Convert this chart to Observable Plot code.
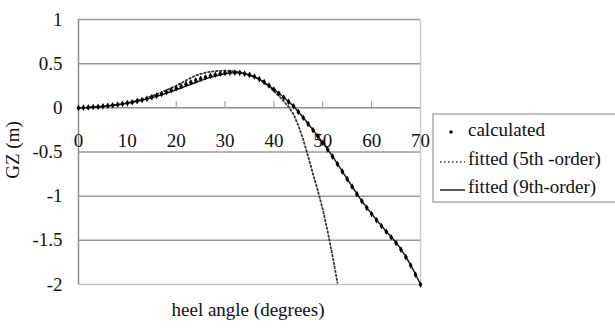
<!DOCTYPE html>
<html>
<head>
<meta charset="utf-8">
<script src="https://cdn.jsdelivr.net/npm/d3@7"></script>
<script src="https://cdn.jsdelivr.net/npm/@observablehq/plot@0.6"></script>
<style>
  html, body { margin: 0; padding: 0; background: #fff; }
  #chart { position: relative; width: 615px; height: 331px; }
</style>
</head>
<body>
<div id="chart"></div>
<script>
// heel angle (degrees) for the calculated points
const calcAngle = [0,1,2,3,4,5,6,7,8,9,10,11,12,13,14,15,16,17,18,19,20,21,22,23,24,25,26,27,28,29,30,31,32,33,34,35,36,37,38,39,40,41,42,43,44,45,46,47,48,49,50,51,52,53,54,55,56,57,58,59,60,61,62,63,64,65,66,67,68,69,70];
// calculated GZ (m)
const calcGZ = [0,0.002,0.005,0.009,0.013,0.018,0.024,0.030,0.037,0.045,0.054,0.064,0.076,0.089,0.104,0.120,0.138,0.157,0.178,0.200,0.222,0.245,0.268,0.290,0.311,0.330,0.347,0.362,0.375,0.386,0.394,0.399,0.400,0.396,0.387,0.373,0.354,0.327,0.292,0.252,0.208,0.163,0.118,0.068,0.018,-0.047,-0.112,-0.182,-0.252,-0.322,-0.397,-0.472,-0.552,-0.637,-0.722,-0.807,-0.892,-0.977,-1.057,-1.132,-1.202,-1.272,-1.337,-1.402,-1.465,-1.530,-1.605,-1.690,-1.785,-1.890,-2.000];

// fitted (9th-order)
const fit9Angle = [0,2,4,6,8,10,12,14,16,18,20,22,24,25,26,27,28,29,30,31,32,33,34,35,36,37,38,39,40,41,42,43,44,45,46,47,48,49,50,51,52,53,54,55,56,57,58,59,60,61,62,63,64,65,66,67,68,69,70];
const fit9GZ = [0,0.004,0.012,0.022,0.035,0.052,0.073,0.099,0.130,0.165,0.205,0.245,0.287,0.308,0.327,0.344,0.360,0.374,0.386,0.395,0.399,0.397,0.388,0.373,0.352,0.325,0.290,0.250,0.210,0.165,0.120,0.070,0.020,-0.045,-0.110,-0.180,-0.250,-0.320,-0.395,-0.470,-0.550,-0.635,-0.720,-0.805,-0.890,-0.975,-1.055,-1.130,-1.200,-1.270,-1.335,-1.400,-1.460,-1.525,-1.600,-1.685,-1.780,-1.885,-2.000];

// fitted (5th-order)
const fit5Angle = [0,1,2,3,4,5,6,7,8,9,10,11,12,13,14,15,16,17,18,19,20,21,22,23,24,25,26,27,28,29,30,31,32,33,34,35,36,37,38,39,40,41,42,43,44,45,46,47,48,49,50,51,52,53];
const fit5GZ = [0,0.001,0.003,0.006,0.010,0.015,0.021,0.028,0.036,0.045,0.056,0.068,0.082,0.097,0.114,0.133,0.154,0.176,0.200,0.225,0.250,0.280,0.310,0.340,0.365,0.385,0.398,0.408,0.415,0.419,0.420,0.418,0.412,0.402,0.388,0.370,0.350,0.320,0.285,0.240,0.190,0.135,0.075,0.010,-0.070,-0.200,-0.360,-0.550,-0.750,-0.940,-1.150,-1.400,-1.680,-1.980];

const xTicks = [0,10,20,30,40,50,60,70];
const yTicks = [1,0.5,0,-0.5,-1,-1.5,-2];
const gridY = [1,0.5,-0.5,-1,-1.5];

const legendLabels = ["calculated", "fitted (5th -order)", "fitted (9th-order)"];

const calc = calcAngle.map((a, i) => ({a, gz: calcGZ[i]}));
const fit9 = fit9Angle.map((a, i) => ({a, gz: fit9GZ[i]}));
const fit5 = fit5Angle.map((a, i) => ({a, gz: fit5GZ[i]}));

const FONT = "Liberation Serif, Times New Roman, serif";

const plot = Plot.plot({
  width: 615,
  height: 331,
  marginLeft: 78,
  marginRight: 195,
  marginTop: 19,
  marginBottom: 47,
  style: {fontFamily: FONT, fontSize: "19px", background: "#fff", color: "#111"},
  x: {domain: [0, 70], axis: null},
  y: {domain: [-2, 1], ticks: yTicks, tickSize: 0, tickPadding: 16, tickFormat: d => String(d), label: null},
  marks: [
    Plot.ruleY(gridY, {y: d => d, stroke: "#9a9a9a", strokeWidth: 1.5}),
    Plot.ruleY([-2], {y: d => d, stroke: "#c4c4c4", strokeWidth: 1.5}),
    Plot.ruleX([70], {x: d => d, stroke: "#cccccc", strokeWidth: 1.5}),
    Plot.ruleX([0], {x: d => d, stroke: "#8f8f8f", strokeWidth: 1.5}),
    Plot.ruleY([0], {y: d => d, stroke: "#8f8f8f", strokeWidth: 1.5}),
    Plot.ruleX(xTicks.slice(1, -1), {x: d => d, y1: 0, y2: 0.07, stroke: "#8f8f8f", strokeWidth: 1}),
    Plot.text(xTicks, {x: d => d, y: 0, text: d => String(d), dy: 33, fill: "#111"}),
    Plot.line(fit5, {x: "a", y: "gz", stroke: "#333", strokeWidth: 1.8, strokeDasharray: "1.5,2.5"}),
    Plot.line(fit9, {x: "a", y: "gz", stroke: "#111", strokeWidth: 1.4}),
    Plot.dot(calc, {x: "a", y: "gz", r: 2, symbol: "diamond", fill: "#000", stroke: "none"})
  ]
});

document.getElementById("chart").appendChild(plot);

const svg = d3.select(plot);
// axis titles
svg.append("text")
  .attr("transform", "translate(15,150) rotate(-90)")
  .attr("text-anchor", "middle").attr("dominant-baseline", "middle")
  .attr("font-family", FONT).attr("font-size", 19).attr("fill", "#111")
  .text("GZ (m)");
svg.append("text")
  .attr("x", 248).attr("y", 312)
  .attr("text-anchor", "middle").attr("dominant-baseline", "middle")
  .attr("font-family", FONT).attr("font-size", 19).attr("fill", "#111")
  .text("heel angle (degrees)");

// legend
const lg = svg.append("g");
lg.append("rect").attr("x", 433).attr("y", 114).attr("width", 190).attr("height", 88)
  .attr("fill", "#fff").attr("stroke", "#999").attr("stroke-width", 1.2);
const rowsY = [132, 161, 189];
legendLabels.forEach((t, i) => {
  lg.append("text").attr("x", 468).attr("y", rowsY[i])
    .attr("text-anchor", "start").attr("dominant-baseline", "middle")
    .attr("font-family", FONT).attr("font-size", 19).attr("fill", "#111").text(t);
});
lg.append("rect").attr("x", 449.5).attr("y", rowsY[0] - 1.5).attr("width", 3).attr("height", 3).attr("fill", "#000");
lg.append("line").attr("x1", 440).attr("x2", 465).attr("y1", rowsY[1] + 1).attr("y2", rowsY[1] + 1)
  .attr("stroke", "#333").attr("stroke-width", 1.5).attr("stroke-dasharray", "1.5,2.5");
lg.append("line").attr("x1", 440).attr("x2", 465).attr("y1", rowsY[2] + 1).attr("y2", rowsY[2] + 1)
  .attr("stroke", "#111").attr("stroke-width", 1.4);
</script>
</body>
</html>
